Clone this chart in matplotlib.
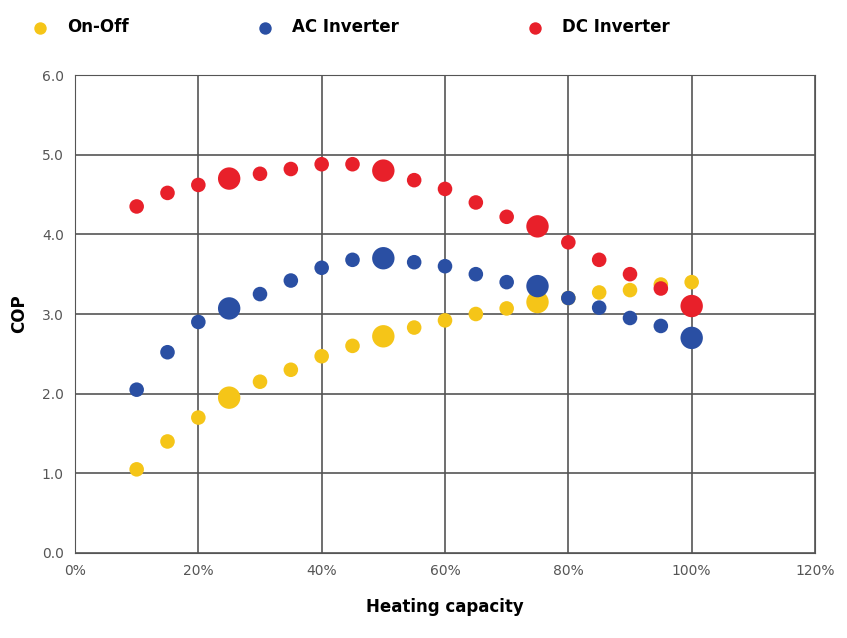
import matplotlib
matplotlib.use("Agg")
import matplotlib.pyplot as plt

capacity = [10, 15, 20, 25, 30, 35, 40, 45, 50, 55, 60, 65, 70, 75, 80, 85, 90, 95, 100]
onoff = [1.05, 1.4, 1.7, 1.95, 2.15, 2.3, 2.47, 2.6, 2.72, 2.83, 2.92, 3.0, 3.07, 3.15, 3.2, 3.27, 3.3, 3.37, 3.4]
ac_inv = [2.05, 2.52, 2.9, 3.07, 3.25, 3.42, 3.58, 3.68, 3.7, 3.65, 3.6, 3.5, 3.4, 3.35, 3.2, 3.08, 2.95, 2.85, 2.7]
dc_inv = [4.35, 4.52, 4.62, 4.7, 4.76, 4.82, 4.88, 4.88, 4.8, 4.68, 4.57, 4.4, 4.22, 4.1, 3.9, 3.68, 3.5, 3.32, 3.1]
big_onoff = [25, 50, 75]
big_inv = [25, 50, 75, 100]

fig = plt.figure(figsize=(8.47, 6.38), dpi=100)
ax = fig.add_axes([75/847, 1-553/638, 740/847, 478/638])

series = [("On-Off", onoff, "#f5c518", big_onoff), ("AC Inverter", ac_inv, "#2a4fa3", big_inv),
          ("DC Inverter", dc_inv, "#e8202a", big_inv)]
for name, vals, c, big in series:
    sizes = [260 if x in big else 110 for x in capacity]
    ax.scatter(capacity, vals, s=sizes, color=c, zorder=3, label=name, linewidths=0)

ax.set_xlim(0, 120)
ax.set_ylim(0, 6)
ax.set_xticks(range(0, 121, 20))
ax.set_xticklabels([f"{v}%" for v in range(0, 121, 20)], color="#555555", fontsize=10)
ax.set_yticks([i for i in range(7)])
ax.set_yticklabels([f"{i:.1f}" for i in range(7)], color="#555555", fontsize=10)
ax.grid(True, color="#555555", linewidth=1.2, zorder=0)
for s in ax.spines.values():
    s.set_color("#555555")
ax.tick_params(length=0, pad=8)
ax.set_xlabel("Heating capacity", fontsize=12, fontweight="bold", labelpad=14)
ax.set_ylabel("COP", fontsize=12, fontweight="bold", labelpad=10)

leg = fig.legend(loc="upper left", bbox_to_anchor=(0.01, 0.995), ncol=3, frameon=False,
                 prop={"weight": "bold", "size": 12}, columnspacing=7.2, handletextpad=0.6,
                 scatterpoints=1, markerscale=1)
for h in leg.legend_handles:
    h.set_sizes([80])
fig.savefig("out.png", dpi=100)
